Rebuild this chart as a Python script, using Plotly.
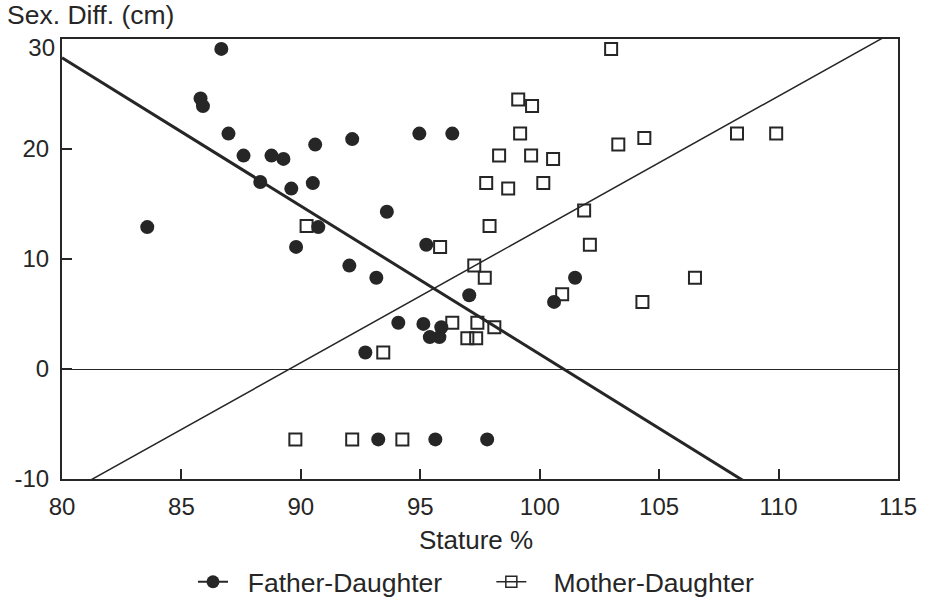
import plotly.graph_objects as go

# ---- data ----
fd_x = [86.67, 85.8, 85.9, 86.97, 87.6, 88.77, 89.27, 88.3, 89.6, 90.6, 92.15, 94.96, 96.34,
        90.5, 83.57, 89.8, 90.73, 93.6, 95.25, 92.03, 93.16, 97.05, 101.48, 100.6,
        94.08, 95.13, 95.88, 95.4, 95.8, 92.7, 93.24, 95.63, 97.8]
fd_y = [29.1, 24.6, 23.9, 21.4, 19.4, 19.4, 19.1, 17.0, 16.4, 20.4, 20.9, 21.4, 21.4,
        16.9, 12.9, 11.1, 12.9, 14.3, 11.3, 9.4, 8.3, 6.7, 8.3, 6.1,
        4.2, 4.1, 3.8, 2.9, 2.9, 1.5, -6.4, -6.4, -6.4]

md_x = [102.99, 99.1, 99.68, 99.18, 98.3, 99.64, 100.56, 97.76, 98.68, 100.15,
        103.29, 104.38, 108.26, 109.9, 90.24, 97.9, 101.86, 102.1, 95.83, 97.26, 97.7,
        100.94, 106.5, 104.3, 96.34, 97.39, 98.1, 96.97, 97.34, 93.45,
        89.77, 92.15, 94.25]
md_y = [29.1, 24.5, 23.9, 21.4, 19.4, 19.4, 19.1, 16.9, 16.4, 16.9,
        20.4, 21.0, 21.4, 21.4, 13.0, 13.0, 14.4, 11.3, 11.1, 9.4, 8.3,
        6.8, 8.3, 6.1, 4.2, 4.2, 3.8, 2.8, 2.8, 1.5,
        -6.4, -6.4, -6.4]

# regression lines (intercept, slope)
fd_fit = (136.14, -1.348)
md_fit = (-108.51, 1.212)

x_range = [80, 115]
y_range = [-10, 30]
x_ticks = [80, 85, 90, 95, 100, 105, 110, 115]
y_ticks = [-10, 0, 10, 20, 30]
y_tick_labels = ["-10", "0", "10", "20", "30"]

names = ["Father-Daughter", "Mother-Daughter"]

INK = "#262626"
FONT = "Liberation Sans, Arial, sans-serif"
NB = "\u00a0"

fig = go.Figure()

# regression lines
fig.add_trace(go.Scatter(x=x_range, y=[fd_fit[0] + fd_fit[1] * v for v in x_range],
                         mode="lines", line=dict(color=INK, width=3), showlegend=False,
                         hoverinfo="skip"))
fig.add_trace(go.Scatter(x=x_range, y=[md_fit[0] + md_fit[1] * v for v in x_range],
                         mode="lines", line=dict(color=INK, width=1.5), showlegend=False,
                         hoverinfo="skip"))

# points
fig.add_trace(go.Scatter(x=fd_x, y=fd_y, mode="markers", showlegend=False,
                         marker=dict(symbol="circle", size=14, color=INK,
                                     line=dict(width=0))))
fig.add_trace(go.Scatter(x=md_x, y=md_y, mode="markers", showlegend=False,
                         marker=dict(symbol="square-open", size=12, color=INK,
                                     line=dict(width=2, color=INK))))

# legend entries
fig.add_trace(go.Scatter(x=[None], y=[None], mode="lines+markers",
                         name=NB * 2 + names[0] + NB * 6,
                         line=dict(color=INK, width=2),
                         marker=dict(symbol="circle", size=13, color=INK)))
fig.add_trace(go.Scatter(x=[None], y=[None], mode="lines+markers",
                         name=NB * 3 + names[1],
                         line=dict(color=INK, width=1.5),
                         marker=dict(symbol="square-open", size=11, color=INK,
                                     line=dict(width=1.5, color=INK))))

# helper trace for the overlay axis carrying the top "30" label
fig.add_trace(go.Scatter(x=[None], y=[None], yaxis="y2", showlegend=False,
                         hoverinfo="skip"))

axis_common = dict(showgrid=False, showline=True, linecolor=INK, linewidth=2, mirror=True,
                   ticks="inside", ticklen=10, tickwidth=2, tickcolor=INK,
                   tickfont=dict(family=FONT, size=24, color=INK))

fig.update_xaxes(range=x_range, tickvals=x_ticks, zeroline=False,
                 ticklabelstandoff=5, **axis_common)

main_y_text = [t if v != y_range[1] else "" for v, t in zip(y_ticks, y_tick_labels)]
fig.update_layout(
    yaxis=dict(range=y_range, tickvals=y_ticks, ticktext=main_y_text, zeroline=True,
               zerolinecolor=INK, zerolinewidth=1, ticklabelstandoff=6, **axis_common),
    yaxis2=dict(range=y_range, overlaying="y", side="left", showgrid=False, zeroline=False,
                showline=False, ticks="", tickvals=[y_range[1]],
                ticktext=[y_tick_labels[-1]], ticklabelshift=9, ticklabelstandoff=6,
                tickfont=dict(family=FONT, size=24, color=INK)),
)

fig.update_layout(
    width=929, height=601,
    margin=dict(l=62, r=31, t=39, b=122, autoexpand=False),
    paper_bgcolor="white", plot_bgcolor="white",
    font=dict(family=FONT, size=24, color=INK),
    legend=dict(orientation="h", x=0.4952, xanchor="center",
                yref="container", y=0.0316, yanchor="middle",
                font=dict(family=FONT, size=26.5, color=INK),
                bgcolor="rgba(0,0,0,0)"),
    annotations=[
        dict(text="Sex. Diff. (cm)", xref="paper", yref="paper", x=-0.068, y=1.0,
             xanchor="left", yanchor="bottom", yshift=7, showarrow=False,
             font=dict(family=FONT, size=26.5, color=INK)),
        dict(text="Stature %", xref="paper", yref="paper", x=0.495, y=0, yshift=-61,
             xanchor="center", yanchor="middle", showarrow=False,
             font=dict(family=FONT, size=26, color=INK)),
    ],
)

fig.write_html("out.html")
